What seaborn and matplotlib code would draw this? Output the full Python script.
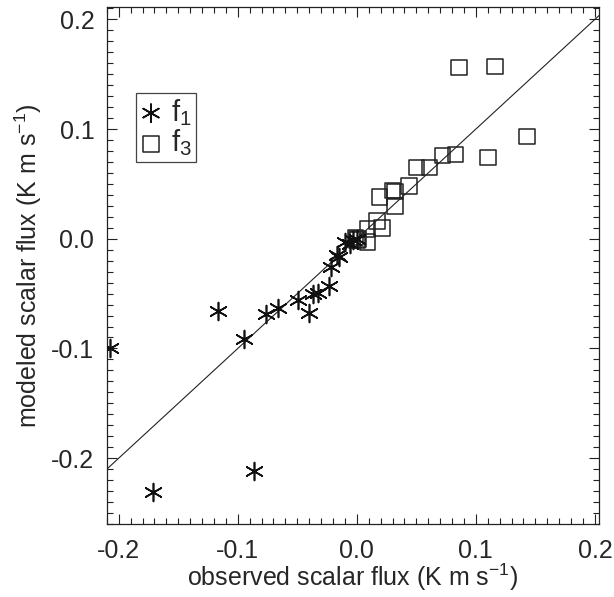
import numpy as np
import pandas as pd
import matplotlib
matplotlib.use("Agg")
import matplotlib.pyplot as plt
import seaborn as sns
from matplotlib.ticker import MultipleLocator, FixedLocator, FixedFormatter

# f1 points (asterisks)
f1_obs = [-0.207, -0.171, -0.117, -0.095, -0.086, -0.076, -0.066, -0.049, -0.040,
          -0.037, -0.033, -0.023, -0.022, -0.017, -0.015, -0.010, -0.006, -0.003, 0.000]
f1_mod = [-0.100, -0.231, -0.066, -0.091, -0.212, -0.069, -0.063, -0.056, -0.068,
          -0.050, -0.049, -0.043, -0.026, -0.015, -0.017, -0.003, -0.005, -0.001, 0.000]

# f3 points (squares)
f3_obs = [0.086, 0.116, 0.143, 0.110, 0.083, 0.072, 0.061, 0.050, 0.044, 0.032,
          0.030, 0.032, 0.019, 0.021, 0.017, 0.009, 0.009, 0.001, -0.001, 0.000]
f3_mod = [0.156, 0.157, 0.093, 0.074, 0.077, 0.076, 0.065, 0.065, 0.048, 0.043,
          0.044, 0.030, 0.038, 0.010, 0.016, 0.009, -0.003, 0.000, 0.001, -0.001]

ticks = [-0.2, -0.1, 0.0, 0.1, 0.2]
tick_labels = ["-0.2", "-0.1", "0.0", "0.1", "0.2"]
xlim = (-0.21, 0.2035)
ylim = (-0.26, 0.211)

sns.set_style("ticks")
plt.rcParams["font.family"] = ["Liberation Sans", "DejaVu Sans"]
plt.rcParams["mathtext.fontset"] = "custom"
plt.rcParams["mathtext.rm"] = "Liberation Sans"

df1 = pd.DataFrame({"obs": f1_obs, "mod": f1_mod})
df3 = pd.DataFrame({"obs": f3_obs, "mod": f3_mod})

fig = plt.figure(figsize=(6.14, 5.97), dpi=100)
ax = fig.add_axes([0.174, 0.1223, 0.8017, 0.8655])

# 1:1 line
ax.plot(xlim, xlim, color="#222222", lw=0.8, zorder=1)

sns.scatterplot(data=df1, x="obs", y="mod", ax=ax, marker=(6, 2, 0), s=165,
                color="#111111", linewidth=1.2, label=r"f$_\mathregular{1}$", zorder=3)
sns.scatterplot(data=df3, x="obs", y="mod", ax=ax, marker="s", s=125,
                color="#222222", linewidth=1.1, label=r"f$_\mathregular{3}$", zorder=2)
ax.collections[-1].set_facecolor("none")
ax.collections[-1].set_edgecolor("#222222")

ax.set_xlim(*xlim)
ax.set_ylim(*ylim)
for axis in (ax.xaxis, ax.yaxis):
    axis.set_major_locator(FixedLocator(ticks))
    axis.set_major_formatter(FixedFormatter(tick_labels))
    axis.set_minor_locator(MultipleLocator(0.01))

ax.tick_params(which="both", direction="in", top=True, right=True,
               color="#222222", width=0.8)
ax.tick_params(which="major", length=7, labelsize=18)
ax.tick_params(axis="x", which="major", pad=11)
ax.tick_params(axis="y", which="major", pad=9)
ax.tick_params(which="minor", length=4)
for sp in ax.spines.values():
    sp.set_linewidth(0.9)
    sp.set_color("#222222")

ax.set_xlabel("observed scalar flux (K m s$^{\\mathregular{-1}}$)", fontsize=18, labelpad=-1)
ax.set_ylabel("modeled scalar flux (K m s$^{\\mathregular{-1}}$)", fontsize=18, labelpad=5)

leg = ax.legend(loc="upper left", bbox_to_anchor=(0.0589, 0.8336), borderaxespad=0,
                fancybox=False, edgecolor="#444444", framealpha=1, fontsize=21,
                handlelength=0.8, handletextpad=0.3, borderpad=0.12, labelspacing=0.0)
leg.get_frame().set_linewidth(0.9)
for h in leg.legend_handles:
    try:
        h.set_facecolor("none")
    except Exception:
        pass
leg.legend_handles[0].set_edgecolor("#111111")

fig.savefig("out.png", dpi=100)
